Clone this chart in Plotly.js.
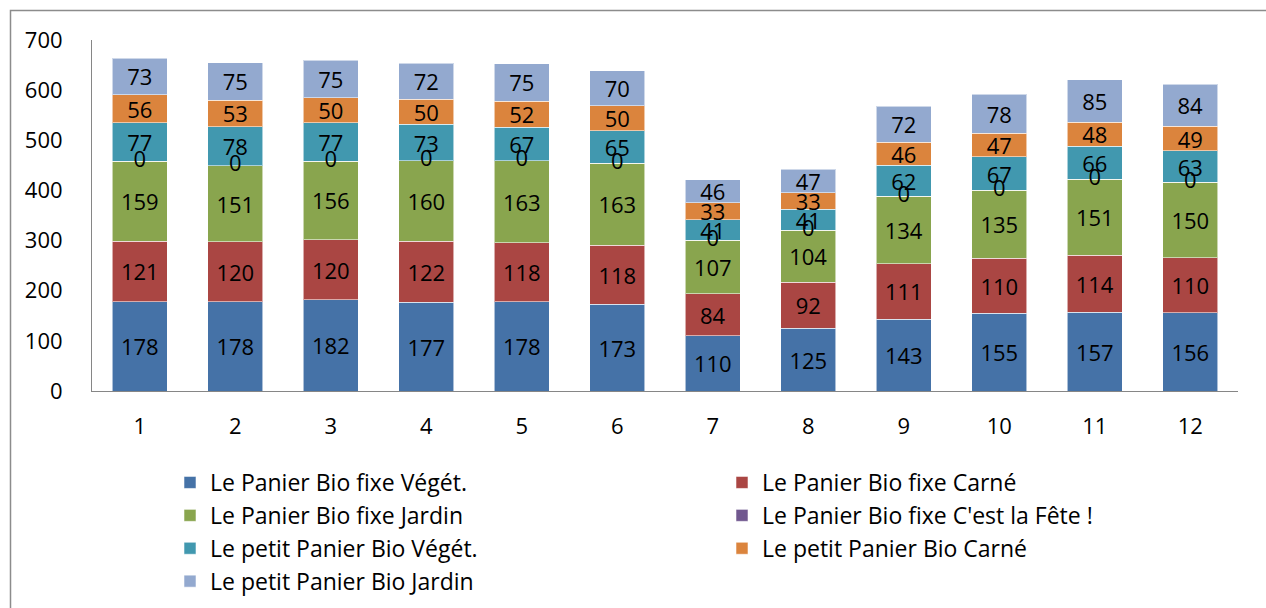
<!DOCTYPE html>
<html>
<head>
<meta charset="utf-8">
<script src="https://cdn.plot.ly/plotly-3.0.1.min.js"></script>
<style>
html,body{margin:0;padding:0;background:#fff;}
#chart{width:1266px;height:608px;}
</style>
</head>
<body>
<div id="chart"></div>
<script>
const categories = ['1','2','3','4','5','6','7','8','9','10','11','12'];
const seriesNames = [
  'Le Panier Bio fixe Végét.',
  'Le Panier Bio fixe Carné',
  'Le Panier Bio fixe Jardin',
  "Le Panier Bio fixe C'est la Fête !",
  'Le petit Panier Bio Végét.',
  'Le petit Panier Bio Carné',
  'Le petit Panier Bio Jardin'
];
const fixeVeget  = [178,178,182,177,178,173,110,125,143,155,157,156];
const fixeCarne  = [121,120,120,122,118,118, 84, 92,111,110,114,110];
const fixeJardin = [159,151,156,160,163,163,107,104,134,135,151,150];
const fixeFete   = [  0,  0,  0,  0,  0,  0,  0,  0,  0,  0,  0,  0];
const petitVeget = [ 77, 78, 77, 73, 67, 65, 41, 41, 62, 67, 66, 63];
const petitCarne = [ 56, 53, 50, 50, 52, 50, 33, 33, 46, 47, 48, 49];
const petitJardin= [ 73, 75, 75, 72, 75, 70, 46, 47, 72, 78, 85, 84];
const colors = ['#4572A7','#AA4643','#89A54E','#71588F','#4198AF','#DB843D','#93A9CF'];

const allSeries = [fixeVeget, fixeCarne, fixeJardin, fixeFete, petitVeget, petitCarne, petitJardin];
const FONT = '"Open Sans", "Noto Sans", sans-serif';

const traces = allSeries.map((vals, i) => ({
  type: 'bar',
  name: seriesNames[i],
  x: categories,
  y: vals,
  text: vals.map(String),
  textposition: 'inside',
  insidetextanchor: 'middle',
  constraintext: 'none',
  textangle: 0,
  textfont: {family: FONT, size: 22, color: '#000'},
  marker: {color: colors[i], line: {color: 'rgba(255,255,255,0.55)', width: 1}},
  hoverinfo: 'name+y'
}));

// labels for the zero-height "C'est la Fête" series, at the top of the stack below it
const feteBase = categories.map((c, k) => fixeVeget[k] + fixeCarne[k] + fixeJardin[k]);
traces.push({
  type: 'scatter',
  mode: 'text',
  x: categories,
  y: feteBase,
  text: fixeFete.map(String),
  textposition: 'middle center',
  textfont: {family: FONT, size: 22, color: '#000'},
  showlegend: false,
  hoverinfo: 'skip'
});

const L = 92, R = 28, T = 40, B = 217;
const pw = 1266 - L - R, ph = 608 - T - B;
const px = v => (v - L) / pw;
const py = v => 1 - (v - T) / ph;

const layout = {
  width: 1266, height: 608,
  margin: {l: L, r: R, t: T, b: B, pad: 0, autoexpand: false},
  paper_bgcolor: '#fff', plot_bgcolor: '#fff',
  barmode: 'stack',
  bargap: 0.425,
  font: {family: FONT, size: 22, color: '#000'},
  xaxis: {
    type: 'category',
    range: [-0.5, categories.length - 0.5],
    autorange: false,
    showgrid: false, zeroline: false,
    showline: true, linecolor: '#868686', linewidth: 1,
    ticks: '', ticklabelstandoff: 16,
    tickfont: {family: FONT, size: 22, color: '#000'}
  },
  yaxis: {
    range: [0, 700], dtick: 100,
    showgrid: false, zeroline: false,
    showline: true, linecolor: '#868686', linewidth: 1,
    ticks: '', ticklabelstandoff: 24,
    tickfont: {family: FONT, size: 22, color: '#000'}
  },
  showlegend: true,
  legend: {
    orientation: 'h',
    traceorder: 'normal',
    x: px(170), xanchor: 'left',
    y: py(461), yanchor: 'top',
    entrywidth: 507, entrywidthmode: 'pixels',
    font: {family: FONT, size: 23, color: '#000'},
    bgcolor: 'rgba(0,0,0,0)'
  },
  shapes: [{
    type: 'rect', xref: 'paper', yref: 'paper',
    x0: px(10.5), x1: px(1290), y0: py(10.5), y1: py(640),
    line: {color: '#8c8c8c', width: 1.5}, fillcolor: 'rgba(0,0,0,0)', layer: 'below'
  }]
};

Plotly.newPlot('chart', traces, layout, {displayModeBar: false, staticPlot: true});
</script>
</body>
</html>
